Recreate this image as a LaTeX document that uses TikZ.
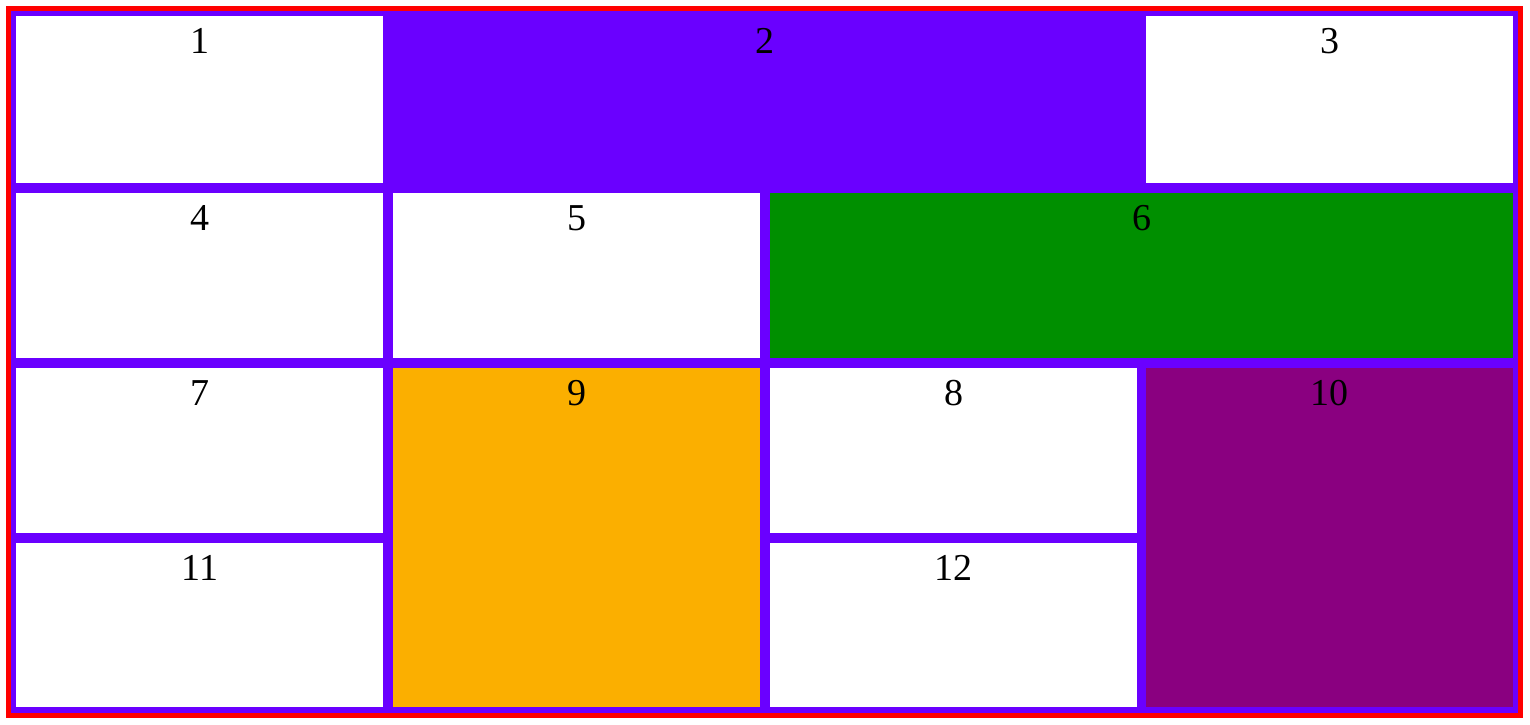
\documentclass[tikz,border=0pt]{standalone}
\usepackage{fontspec}
\setmainfont{Liberation Serif}
\usepackage{xcolor}
\usepackage{tikz}
\usetikzlibrary{positioning}

\definecolor{framered}{HTML}{FF0000}
\definecolor{gridpurple}{HTML}{6A00FF}
\definecolor{cellgreen}{HTML}{008F00}
\definecolor{cellorange}{HTML}{FBAF00}
\definecolor{cellplum}{HTML}{8A0080}

\begin{document}
\begin{tikzpicture}[
      x=1pt, y=-1pt,
      every node/.style={font=\fontsize{38}{40}\selectfont},
      cell/.style={
        anchor=north west, inner sep=0pt, fill=white,
        minimum width=367pt, minimum height=165pt,
        label={[anchor=base, inner sep=0pt, yshift=-37pt]north:#1}
      },
      wide/.style={minimum width=743pt},
      tall/.style={minimum height=339pt}
    ]
    \useasboundingbox (0,0) rectangle (1530,724);
    % outer frame and grid background
    \fill[framered] (6,6) rectangle (1523,718);
    \fill[gridpurple] (11,11) rectangle (1518,713);

    % row 1
    \node[cell=1, minimum height=167pt] (c1) at (16,16) {};
    \node[cell=2, wide, minimum height=167pt, fill=gridpurple] (c2) at (393,16) {};
    \node[cell=3, minimum height=167pt] (c3) at (1146,16) {};
    % row 2
    \node[cell=4] (c4) at (16,193) {};
    \node[cell=5] (c5) at (393,193) {};
    \node[cell=6, wide, fill=cellgreen] (c6) at (770,193) {};
    % rows 3 and 4
    \node[cell=7] (c7) at (16,368) {};
    \node[cell=9, tall, fill=cellorange] (c9) at (393,368) {};
    \node[cell=8] (c8) at (770,368) {};
    \node[cell=10, tall, fill=cellplum] (c10) at (1146,368) {};
    \node[cell=11, minimum height=164pt] (c11) at (16,543) {};
    \node[cell=12, minimum height=164pt] (c12) at (770,543) {};
  \end{tikzpicture}
\end{document}
